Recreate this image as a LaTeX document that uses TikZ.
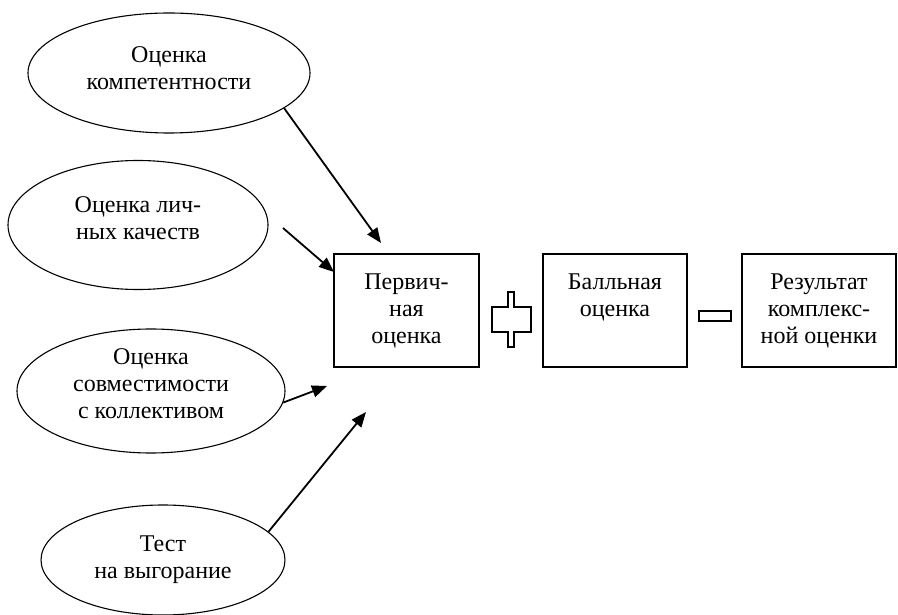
\documentclass[tikz,border=0pt]{standalone}
\usepackage{fontspec}
\setmainfont{Liberation Serif}
\usetikzlibrary{arrows.meta,shapes.geometric,positioning}

\tikzset{
  ocenka/.style={draw,ellipse,line width=1.1pt,inner sep=0pt},
  blok/.style={draw,rectangle,line width=1.3pt,inner sep=0pt},
  tekst/.style={align=center,inner sep=0pt,font=\fontsize{24}{27}\selectfont},
  strelka/.style={line width=1.8pt,-{Triangle[length=15pt,width=12pt]}},
  znak/.style={draw,line width=1.1pt}
}

\begin{document}
\begin{tikzpicture}[x=1pt,y=-1pt]
\useasboundingbox (0,0) rectangle (898,615);
\node[ocenka,minimum width=282pt,minimum height=120pt,
  label={[tekst,yshift=5pt]center:Оценка\\компетентности}] (komp) at (169,73) {};
\node[ocenka,minimum width=260pt,minimum height=129pt,
  label={[tekst,yshift=7pt]center:Оценка лич-\\ных качеств}] (lich) at (138,225) {};
\node[ocenka,minimum width=268pt,minimum height=124pt,
  label={[tekst,yshift=7pt]center:Оценка\\совместимости\\с коллективом}] (sovm) at (151,391) {};
\node[ocenka,minimum width=244pt,minimum height=110pt,
  label={[tekst]center:Тест\\на выгорание}] (test) at (163,560) {};

\node[blok,minimum width=145pt,minimum height=113pt] (perv) at (406.5,310.5) {};
\node[blok,minimum width=144pt,minimum height=113pt] (ball) at (615,310.5) {};
\node[blok,minimum width=154pt,minimum height=113pt] (rez) at (819,310.5) {};
\node[tekst,anchor=north] (pervt) at ([yshift=-20pt]perv.north) {Первич-\\ная\\оценка};
\node[tekst,anchor=north] (ballt) at ([yshift=-20pt]ball.north) {Балльная\\оценка};
\node[tekst,anchor=north] (rezt) at ([yshift=-20pt]rez.north) {Результат\\комплекс-\\ной оценки};

% plus and minus
\draw[znak] (492,307) -- (508,307) -- (508,292) -- (514,292) -- (514,307) -- (531,307)
  -- (531,332) -- (514,332) -- (514,347) -- (508,347) -- (508,332) -- (492,332) -- cycle;
\draw[znak] (699,311) rectangle (731,321);

\coordinate (k1) at (381,243);
\coordinate (l0) at (283,228);
\coordinate (l1) at (334,272);
\coordinate (s1) at (327,386);
\coordinate (t1) at (366,412);
\draw[strelka] (komp.-17) -- (k1);
\draw[strelka] (l0) -- (l1);
\draw[strelka] (sovm.-5) -- (s1);
\draw[strelka] (test.15) -- (t1);
\end{tikzpicture}
\end{document}
